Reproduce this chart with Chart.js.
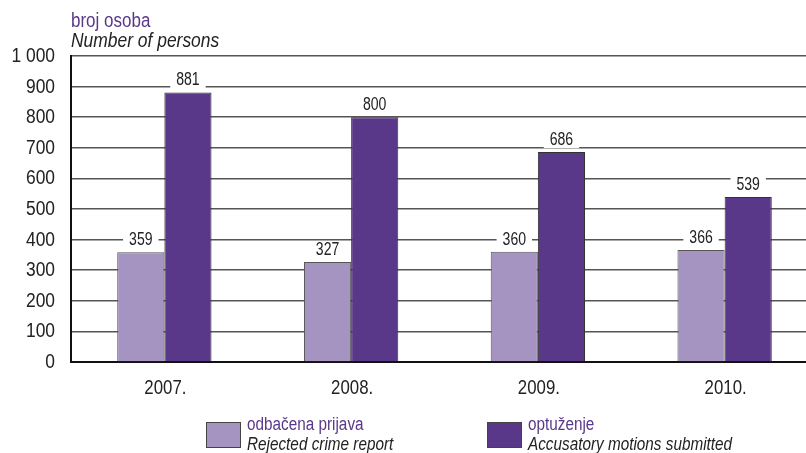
<!DOCTYPE html>
<html><head><meta charset="utf-8">
<script src="https://cdn.jsdelivr.net/npm/chart.js@4/dist/chart.umd.min.js"></script>
<style>
html,body{margin:0;padding:0;background:#fff;overflow:hidden;width:806px;height:453px;}
#wrap{position:relative;width:818px;height:453px;}
.t{position:absolute;font-family:"Liberation Sans",Arial,sans-serif;white-space:nowrap;transform-origin:0 0;}
.p{color:#5a3889;}
.i{font-style:italic;color:#222;}
.box{position:absolute;width:33px;height:24px;border:1px solid #444;}
</style></head><body>
<div id="wrap">
<canvas id="c" width="818" height="453" style="position:absolute;left:0;top:0"></canvas>
<div class="t p" style="left:71px;top:10px;font-size:20px;line-height:20px;transform:scaleX(0.85)">broj osoba</div>
<div class="t i" style="left:71px;top:29px;font-size:21px;line-height:21px;transform:scaleX(0.83)">Number of persons</div>
<div class="box" style="left:206px;top:422px;background:#a593c2"></div>
<div class="t p" style="left:247px;top:415px;font-size:18px;line-height:18px;transform:scaleX(0.85)">odbačena prijava</div>
<div class="t i" style="left:247px;top:435px;font-size:18px;line-height:18px;transform:scaleX(0.85)">Rejected crime report</div>
<div class="box" style="left:487px;top:422px;background:#5a3889"></div>
<div class="t p" style="left:528px;top:415px;font-size:18px;line-height:18px;transform:scaleX(0.85)">optuženje</div>
<div class="t i" style="left:528px;top:435px;font-size:18px;line-height:18px;transform:scaleX(0.85)">Accusatory motions submitted</div>
</div>
<script>
const categories = ["2007.", "2008.", "2009.", "2010."];
const rejected = [359, 327, 360, 366];
const accusatory = [881, 800, 686, 539];
const seriesNames = ["odbačena prijava", "optuženje"];
const yTickLabels = ["0", "100", "200", "300", "400", "500", "600", "700", "800", "900", "1 000"];
const FONT = '"Liberation Sans",Arial,sans-serif';

function condText(ctx, txt, x, y, size, sx, align) {
  ctx.save();
  ctx.font = size + 'px ' + FONT;
  ctx.textBaseline = 'middle';
  ctx.textAlign = align;
  ctx.translate(x, y);
  ctx.scale(sx, 1);
  ctx.fillText(txt, 0, 0);
  ctx.restore();
}

const customText = {
  id: 'customText',
  afterDatasetsDraw(chart) {
    const ctx = chart.ctx;
    ctx.save();
    // value labels
    chart.data.datasets.forEach((ds, di) => {
      chart.getDatasetMeta(di).data.forEach((bar, i) => {
        const txt = String(ds.data[i]);
        ctx.font = '18px ' + FONT;
        const w = ctx.measureText(txt).width * 0.78 + 12;
        const y = bar.y - 12;
        ctx.fillStyle = '#fff';
        ctx.fillRect(bar.x - w / 2, y - 8, w, 16);
        ctx.fillStyle = '#222';
        condText(ctx, txt, bar.x, y, 18, 0.78, 'center');
      });
    });
    // y tick labels
    const ys = chart.scales.y;
    ctx.fillStyle = '#222';
    yTickLabels.forEach((lab, i) => {
      condText(ctx, lab, 55, ys.getPixelForValue(i * 100) + 0.5, 20, 0.87, 'right');
    });
    // x tick labels
    const xs = chart.scales.x;
    categories.forEach((c, i) => {
      condText(ctx, c, xs.getPixelForValue(i) + 1, 388, 21, 0.8, 'center');
    });
    ctx.restore();
  }
};

new Chart(document.getElementById('c'), {
  type: 'bar',
  data: {
    labels: categories,
    datasets: [
      { label: seriesNames[0], data: rejected, backgroundColor: '#a593c2', borderColor: '#555', borderWidth: 1 },
      { label: seriesNames[1], data: accusatory, backgroundColor: '#5a3889', borderColor: '#333', borderWidth: 1 }
    ]
  },
  options: {
    responsive: false,
    animation: false,
    devicePixelRatio: 1,
    layout: { padding: { top: 56, left: 0, right: 0, bottom: 0 } },
    plugins: { legend: { display: false }, tooltip: { enabled: false } },
    datasets: { bar: { barPercentage: 1, categoryPercentage: 0.505 } },
    scales: {
      x: {
        grid: { display: false },
        border: { color: '#111', width: 2 },
        ticks: { display: false },
        afterFit(s) { s.height = 91; }
      },
      y: {
        min: 0, max: 1000,
        ticks: { stepSize: 100, display: false },
        grid: { color: '#555', lineWidth: 1.5, drawTicks: false },
        border: { color: '#111', width: 2 },
        afterFit(s) { s.width = 71; }
      }
    }
  },
  plugins: [customText]
});
</script>
</body></html>
